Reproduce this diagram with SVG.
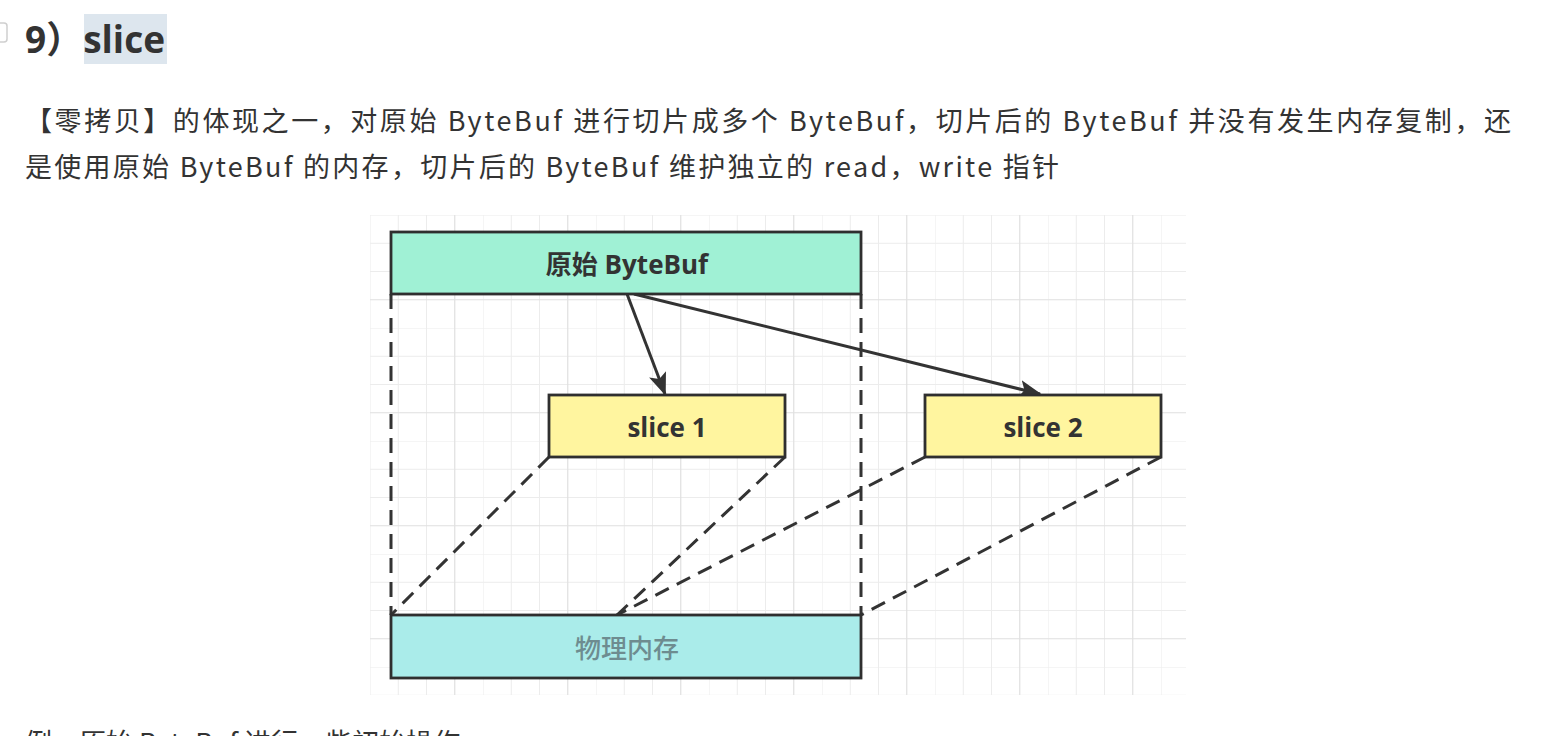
<svg xmlns="http://www.w3.org/2000/svg" width="1555" height="736" viewBox="0 0 1555 736">
<defs>
<pattern id="grid" patternUnits="userSpaceOnUse" x="370" y="215" width="113" height="113">
<path d="M0,0 V113 M28.25,0 V113 M56.5,0 V113 M0,0 H113 M0,28.25 H113 M0,56.5 H113" fill="none" stroke="#ececec" stroke-width="1"/>
<path d="M84.75,0 V113 M0,84.75 H113" fill="none" stroke="#e0e0e0" stroke-width="1.2"/>
</pattern>
<marker id="arrow" markerUnits="userSpaceOnUse" markerWidth="26" markerHeight="20" refX="21" refY="9" orient="auto" viewBox="0 0 26 18">
<path d="M0,0 L23,9 L0,18 L5,9 Z" fill="#333"/>
</marker>
<style>
.para{font-family:"Noto Sans CJK SC","Noto Sans",sans-serif;font-size:27px;fill:#333;}
.head{font-family:"Open Sans","Noto Sans CJK SC",sans-serif;font-size:37px;font-weight:bold;fill:#333;}
.box{stroke:#2f2f2f;stroke-width:2.8;}
.lbl{font-family:"Open Sans","Noto Sans CJK SC",sans-serif;font-size:26px;font-weight:bold;fill:#333;text-anchor:middle;dominant-baseline:central;}
.lblm{font-family:"Noto Sans CJK SC",sans-serif;font-size:26px;font-weight:500;fill:#6e8c90;text-anchor:middle;dominant-baseline:central;}
.dash{fill:none;stroke:#333;stroke-width:3;stroke-dasharray:15 9;}
.arr{fill:none;stroke:#333;stroke-width:3;}
</style>
</defs>
<rect width="1555" height="736" fill="#ffffff"/>
<rect x="-6" y="23" width="13" height="19" rx="3" fill="none" stroke="#cfcfcf" stroke-width="1.5"/>
<rect x="84" y="14" width="83" height="50" fill="#dde6ee"/>
<text class="head" x="25" y="53">9）slice</text>
<text class="para" x="25" y="131" textLength="1486" lengthAdjust="spacing">【零拷贝】的体现之一，对原始 ByteBuf 进行切片成多个 ByteBuf，切片后的 ByteBuf 并没有发生内存复制，还</text>
<text class="para" x="25" y="177" textLength="1034" lengthAdjust="spacing">是使用原始 ByteBuf 的内存，切片后的 ByteBuf 维护独立的 read，write 指针</text>
<text class="para" x="25" y="753">例，原始 ByteBuf 进行一些初始操作</text>
<rect x="370" y="215" width="816" height="480" fill="url(#grid)"/>
<g id="connectors">
<path class="dash" d="M391,294 V615"/>
<path class="dash" d="M861,294 V615"/>
<path class="dash" d="M549,457 L391,615"/>
<path class="dash" d="M785,457 L617,615"/>
<path class="dash" d="M925,457 L617,615"/>
<path class="dash" d="M1161,457 L861,615"/>
<path class="arr" d="M627,294 L665,394" marker-end="url(#arrow)"/>
<path class="arr" d="M634,294 L1040,394" marker-end="url(#arrow)"/>
</g>
<g id="original">
<rect class="box" x="391" y="232" width="470" height="62" fill="#a0f1d5"/>
<text class="lbl" x="627" y="264">原始 ByteBuf</text>
</g>
<g id="slice1">
<rect class="box" x="549" y="395" width="236" height="62" fill="#fff59f"/>
<text class="lbl" x="667" y="427">slice 1</text>
</g>
<g id="slice2">
<rect class="box" x="925" y="395" width="236" height="62" fill="#fff59f"/>
<text class="lbl" x="1043" y="427">slice 2</text>
</g>
<g id="memory">
<rect class="box" x="391" y="615" width="470" height="63" fill="#aaecea"/>
<text class="lblm" x="627" y="646">物理内存</text>
</g>
</svg>
